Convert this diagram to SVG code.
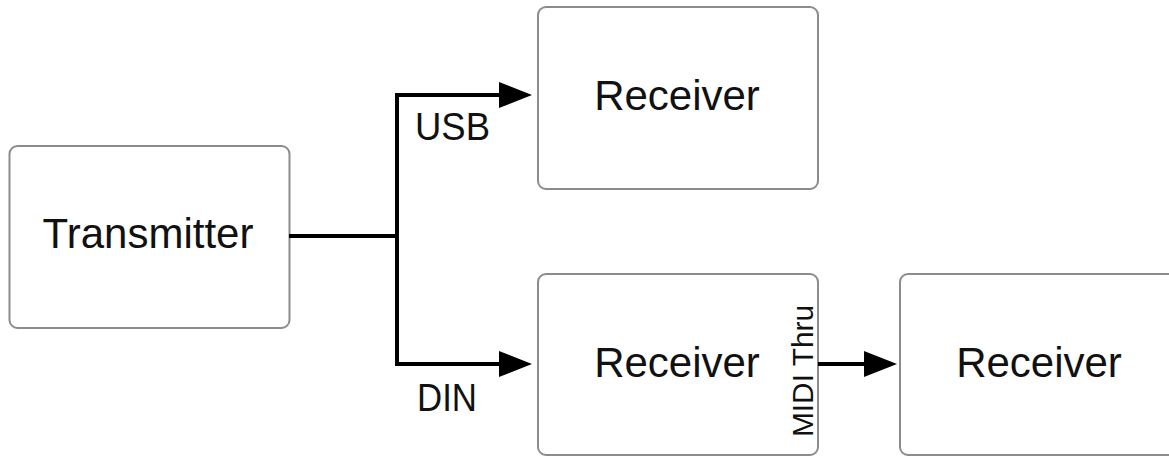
<svg xmlns="http://www.w3.org/2000/svg" width="1169" height="456" viewBox="0 0 1169 456">
  <style>
    .box { fill: #ffffff; stroke: #8c8c8c; stroke-width: 2; }
    .lbl { font-family: "Liberation Sans", Arial, sans-serif; font-size: 42px; fill: #111111; text-anchor: middle; }
    .edge { fill: none; stroke: #000000; stroke-width: 4; }
    .elbl { font-family: "Liberation Sans", Arial, sans-serif; font-size: 38px; fill: #111111; }
    .vlbl { font-family: "Liberation Sans", Arial, sans-serif; font-size: 30px; fill: #111111; text-anchor: middle; }
  </style>
  <defs>
    <marker id="arrow" viewBox="0 0 33 26" refX="0" refY="13" markerWidth="33" markerHeight="26" markerUnits="userSpaceOnUse" orient="auto">
      <path d="M0,0 L33,13 L0,26 Z" fill="#000000"/>
    </marker>
  </defs>
  <rect width="1169" height="456" fill="#ffffff"/>

  <g id="transmitter">
    <rect class="box" x="9.5" y="146" width="280" height="182" rx="8"/>
    <text class="lbl" x="148" y="248">Transmitter</text>
  </g>
  <g id="receiver-usb">
    <rect class="box" x="538" y="7" width="280" height="182" rx="8"/>
    <text class="lbl" x="677" y="110">Receiver</text>
  </g>
  <g id="receiver-din">
    <rect class="box" x="538" y="274" width="280" height="181" rx="8"/>
    <text class="lbl" x="677" y="377">Receiver</text>
  </g>
  <g id="receiver-thru">
    <rect class="box" x="900" y="274" width="290" height="181" rx="8"/>
    <text class="lbl" x="1039" y="377">Receiver</text>
  </g>

  <g id="connectors">
    <path class="edge" d="M289,236 H397 V95 H499" marker-end="url(#arrow)"/>
    <path class="edge" d="M397,236 V364 H499" marker-end="url(#arrow)"/>
    <path class="edge" d="M818,364 H864" marker-end="url(#arrow)"/>
    <text class="elbl" x="415" y="140" textLength="75" lengthAdjust="spacingAndGlyphs">USB</text>
    <text class="elbl" x="417" y="411" textLength="60" lengthAdjust="spacingAndGlyphs">DIN</text>
    <text class="vlbl" transform="translate(813,371) rotate(-90)" x="0" y="0" textLength="132" lengthAdjust="spacingAndGlyphs">MIDI Thru</text>
  </g>
</svg>
